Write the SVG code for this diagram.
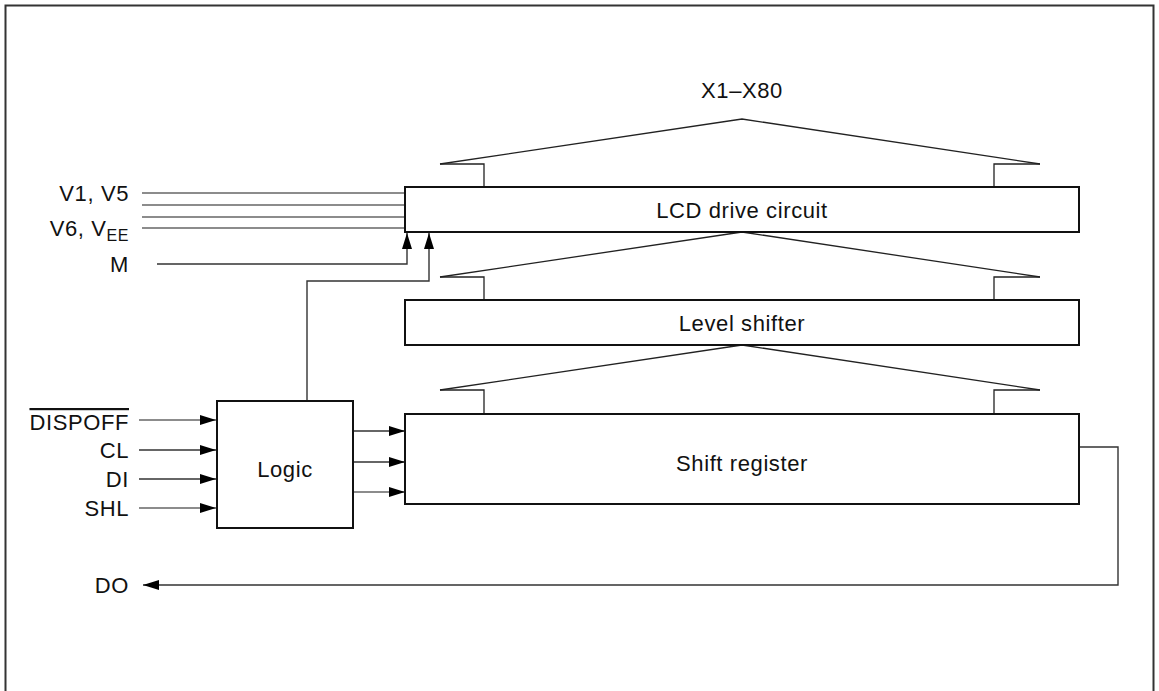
<svg xmlns="http://www.w3.org/2000/svg" width="1159" height="691" viewBox="0 0 1159 691">
<defs>
<marker id="ah" markerWidth="18" markerHeight="12" refX="16" refY="6" orient="auto" markerUnits="userSpaceOnUse">
<path d="M0,1 L16,6 L0,11 Z" fill="#000"/>
</marker>
<style>
text{font-family:"Liberation Sans",Arial,sans-serif;font-size:22px;fill:#111;letter-spacing:0.6px}
.box{fill:#fff;stroke:#111;stroke-width:2}
.ln{fill:none;stroke:#333;stroke-width:1.4}
.g{fill:none;stroke:#666;stroke-width:1.6}
.fan{fill:none;stroke:#222;stroke-width:1.3}
</style>
</defs>
<rect x="5.5" y="5.5" width="1148" height="700" fill="none" stroke="#333" stroke-width="2"/>
<text x="742" y="98" text-anchor="middle">X1–X80</text>
<g id="fans">
<polyline class="fan" points="440,164 742,119 1040,164"/>
<polyline class="fan" points="440,164 484,164 484,187"/>
<polyline class="fan" points="1040,164 994,164 994,187"/>
<polyline class="fan" points="440,277 742,232 1040,277"/>
<polyline class="fan" points="440,277 484,277 484,300"/>
<polyline class="fan" points="1040,277 994,277 994,300"/>
<polyline class="fan" points="440,390 742,345 1040,390"/>
<polyline class="fan" points="440,390 484,390 484,414"/>
<polyline class="fan" points="1040,390 994,390 994,414"/>
</g>
<g id="connectors">
<line class="g" x1="142" y1="193" x2="405" y2="193"/>
<line class="g" x1="142" y1="205" x2="405" y2="205"/>
<line class="g" x1="142" y1="217" x2="405" y2="217"/>
<line class="g" x1="142" y1="228" x2="405" y2="228"/>
<polyline class="ln" points="157,264 407,264 407,233" marker-end="url(#ah)"/>
<polyline class="ln" points="307,401 307,281 429,281 429,233" marker-end="url(#ah)"/>
<line class="g" x1="139" y1="420" x2="216" y2="420" marker-end="url(#ah)"/>
<line class="ln" x1="139" y1="450" x2="216" y2="450" marker-end="url(#ah)"/>
<line class="ln" x1="139" y1="479" x2="216" y2="479" marker-end="url(#ah)"/>
<line class="g" x1="139" y1="508" x2="216" y2="508" marker-end="url(#ah)"/>
<line class="ln" x1="353" y1="431" x2="405" y2="431" marker-end="url(#ah)"/>
<line class="ln" x1="353" y1="462" x2="405" y2="462" marker-end="url(#ah)"/>
<line class="g" x1="353" y1="492" x2="405" y2="492" marker-end="url(#ah)"/>
<polyline class="ln" points="1079,447 1118,447 1118,585 143,585" marker-end="url(#ah)"/>
</g>
<g id="lcd">
<rect class="box" x="405" y="187" width="674" height="45"/>
<text x="742" y="218" text-anchor="middle">LCD drive circuit</text>
</g>
<g id="level">
<rect class="box" x="405" y="300" width="674" height="45"/>
<text x="742" y="331" text-anchor="middle">Level shifter</text>
</g>
<g id="shift">
<rect class="box" x="405" y="414" width="674" height="90"/>
<text x="742" y="471" text-anchor="middle">Shift register</text>
</g>
<g id="logic">
<rect class="box" x="217" y="401" width="136" height="127"/>
<text x="285" y="477" text-anchor="middle">Logic</text>
</g>
<g id="labels">
<text x="129" y="201" text-anchor="end">V1, V5</text>
<text x="129" y="236" text-anchor="end">V6, V<tspan font-size="16" dy="5">EE</tspan></text>
<text x="129" y="272" text-anchor="end">M</text>
<text x="129" y="430" text-anchor="end" text-decoration="overline">DISPOFF</text>
<text x="129" y="458" text-anchor="end">CL</text>
<text x="129" y="487" text-anchor="end">DI</text>
<text x="129" y="516" text-anchor="end">SHL</text>
<text x="129" y="593" text-anchor="end">DO</text>
</g>
</svg>
